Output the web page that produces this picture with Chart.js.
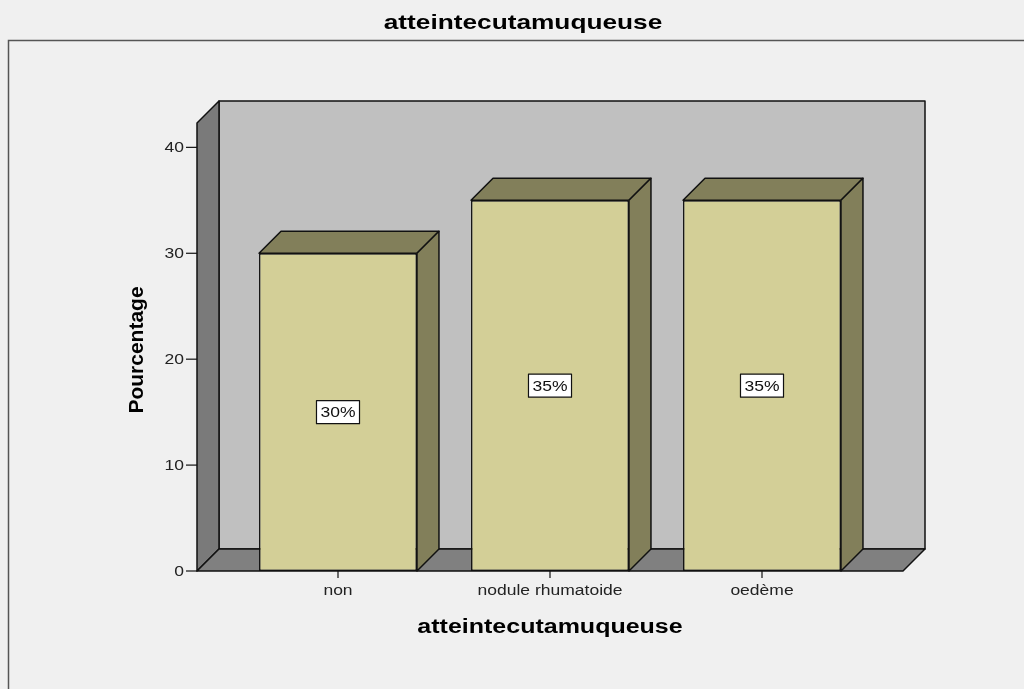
<!DOCTYPE html>
<html>
<head>
<meta charset="utf-8">
<script src="https://cdn.jsdelivr.net/npm/chart.js"></script>
<style>
  html, body { margin: 0; padding: 0; background: #f0f0f0; }
  #c { display: block; }
</style>
</head>
<body>
<canvas id="c" width="1024" height="689"></canvas>
<script>
const categories = ['non', 'nodule rhumatoide', 'oedème']
const percentages = [30, 35, 35]
const yTicks = [0, 10, 20, 30, 40]
const yMax = 42.3

const titleText = 'atteintecutamuqueuse'
const yTitle = 'Pourcentage'
const depth = 22
const sideGap = 35
const stretch = 1.25   // horizontal text is drawn a bit wide
const FONT = '"Liberation Sans", Arial, sans-serif'

function poly(ctx, pts, fill){
    ctx.beginPath()
    ctx.moveTo(pts[0][0], pts[0][1])
    for(let i = 1; i < pts.length; i++) ctx.lineTo(pts[i][0], pts[i][1])
    ctx.closePath()
    ctx.fillStyle = fill
    ctx.fill()
    ctx.stroke()
}

function wideText(ctx, txt, x, y){
    ctx.save()
    ctx.translate(x, y)
    ctx.scale(stretch, 1)
    ctx.fillText(txt, 0, 0)
    ctx.restore()
}

// walls, floor, frame and axes drawn behind the bars
const box3d = {
    id: 'box3d',
    beforeDatasetsDraw(chart){
        const ctx = chart.ctx, a = chart.chartArea
        const y = chart.scales.y, x = chart.scales.x
        const L = a.left - sideGap, R = a.right + sideGap
        const B = y.getPixelForValue(0), T = y.getPixelForValue(yMax)
        ctx.save()

        // outer frame
        ctx.strokeStyle = '#555'
        ctx.lineWidth = 1.5
        ctx.strokeRect(8.5, 40.5, 1030, 700)

        ctx.strokeStyle = '#111'
        ctx.lineWidth = 1.5
        ctx.lineJoin = 'round'
        poly(ctx, [[L + depth, T - depth], [R + depth, T - depth], [R + depth, B - depth], [L + depth, B - depth]], '#c0c0c0')
        poly(ctx, [[L, B], [L, T], [L + depth, T - depth], [L + depth, B - depth]], '#7a7a7a')
        poly(ctx, [[L, B], [R, B], [R + depth, B - depth], [L + depth, B - depth]], '#808080')

        // y ticks
        ctx.fillStyle = '#222'
        ctx.font = '14px ' + FONT
        ctx.textAlign = 'right'
        ctx.textBaseline = 'middle'
        ctx.lineWidth = 1.2
        yTicks.forEach(v => {
            const py = y.getPixelForValue(v)
            ctx.beginPath()
            ctx.moveTo(L - 11, py)
            ctx.lineTo(L, py)
            ctx.stroke()
            wideText(ctx, String(v), L - 13, py + 1)
        })

        // x ticks
        ctx.textAlign = 'center'
        categories.forEach((c, i) => {
            const px = x.getPixelForValue(i)
            ctx.beginPath()
            ctx.moveTo(px, B)
            ctx.lineTo(px, B + 7)
            ctx.stroke()
            wideText(ctx, c, px, B + 20)
        })

        // titles
        ctx.fillStyle = '#000'
        ctx.font = 'bold 21px ' + FONT
        wideText(ctx, titleText, 523, 23)
        ctx.font = 'bold 20px ' + FONT
        wideText(ctx, titleText, (L + R) / 2, 627)
        ctx.save()
        ctx.translate(137, 350)
        ctx.rotate(-Math.PI / 2)
        ctx.font = 'bold 21px ' + FONT
        ctx.fillText(yTitle, 0, 0)
        ctx.restore()

        ctx.restore()
    },
    afterDatasetsDraw(chart){
        const ctx = chart.ctx
        const meta = chart.getDatasetMeta(0)
        ctx.save()
        ctx.strokeStyle = '#111'
        ctx.lineJoin = 'round'
        meta.data.forEach((bar, i) => {
            const x0 = bar.x - bar.width / 2, x1 = bar.x + bar.width / 2
            const top = bar.y, base = bar.base
            ctx.lineWidth = 1.5
            poly(ctx, [[x0, top], [x0 + depth, top - depth], [x1 + depth, top - depth], [x1, top]], '#827f5a')
            poly(ctx, [[x1, top], [x1 + depth, top - depth], [x1 + depth, base - depth], [x1, base]], '#827f5a')

            // value label box
            const txt = percentages[i] + '%'
            const cy = (top + base) / 2
            ctx.font = '14px ' + FONT
            const w = ctx.measureText(txt).width * stretch + 8, h = 23
            ctx.fillStyle = '#fff'
            ctx.lineWidth = 1.2
            ctx.fillRect(bar.x - w / 2, cy - h / 2, w, h)
            ctx.strokeRect(bar.x - w / 2, cy - h / 2, w, h)
            ctx.fillStyle = '#111'
            ctx.textAlign = 'center'
            ctx.textBaseline = 'middle'
            wideText(ctx, txt, bar.x, cy + 1)
        })
        ctx.restore()
    }
}

new Chart(document.getElementById('c'), {
    type: 'bar',
    data: {
        labels: categories,
        datasets: [{
            data: percentages,
            backgroundColor: '#d3cf97',
            borderColor: '#111',
            borderWidth: 1.5,
            borderSkipped: false,
            barPercentage: 0.745,
            categoryPercentage: 1
        }]
    },
    options: {
        responsive: false,
        devicePixelRatio: 1,
        animation: false,
        layout: { padding: { left: 232, right: 156, top: 123, bottom: 118 } },
        plugins: { legend: { display: false }, tooltip: { enabled: false } },
        scales: {
            x: { display: false, offset: true },
            y: { display: false, min: 0, max: yMax }
        }
    },
    plugins: [box3d]
})
</script>
</body>
</html>
